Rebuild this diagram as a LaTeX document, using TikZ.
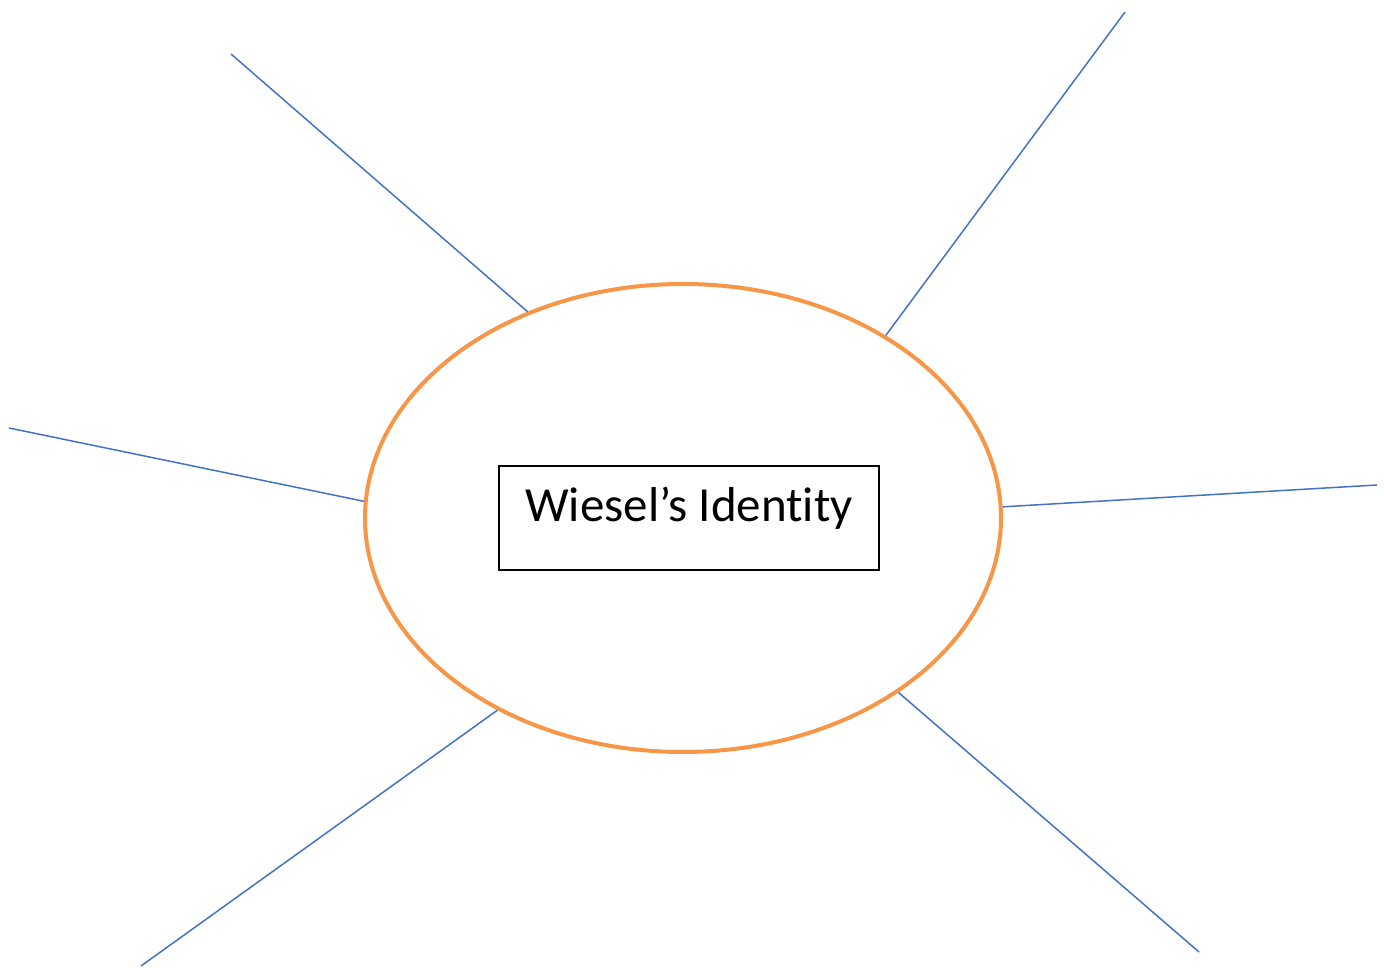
\documentclass[tikz,border=0pt]{standalone}
\usepackage{fontspec}
\setmainfont[Ligatures=NoCommon]{Carlito}
\usetikzlibrary{shapes.geometric}

\definecolor{spokeblue}{HTML}{4472C4}
\definecolor{huborange}{HTML}{F79646}

\begin{document}
\begin{tikzpicture}[x=1pt,y=1pt,
	spoke/.style={draw=spokeblue,line width=1.5pt},
	hub/.style={ellipse,draw=huborange,line width=4pt,minimum width=636pt,minimum height=468pt,inner sep=0pt},
	title/.style={rectangle,draw=black,line width=1.2pt,minimum width=380pt,minimum height=104pt,text height=14pt,text depth=6pt,font=\fontsize{49}{58}\selectfont}]
	\useasboundingbox (0,0) rectangle (1384,967);

	\node[hub] (H) at (683,449) {};
	\node[title] (T) at (689,449) {Wiesel’s Identity};

	\coordinate (UL) at (231,913);
	\coordinate (UR) at (1125,955);
	\coordinate (L) at (9,539);
	\coordinate (R) at (1377,482);
	\coordinate (LL) at (141,1);
	\coordinate (LR) at (1199,15);

	\draw[spoke] (UL) -- (H.127);
	\draw[spoke] (UR) -- (H.42);
	\draw[spoke] (L) -- (H.177);
	\draw[spoke] (R) -- (H.2.5);
	\draw[spoke] (LL) -- (H.226);
	\draw[spoke] (LR) -- (H.321);
\end{tikzpicture}
\end{document}
